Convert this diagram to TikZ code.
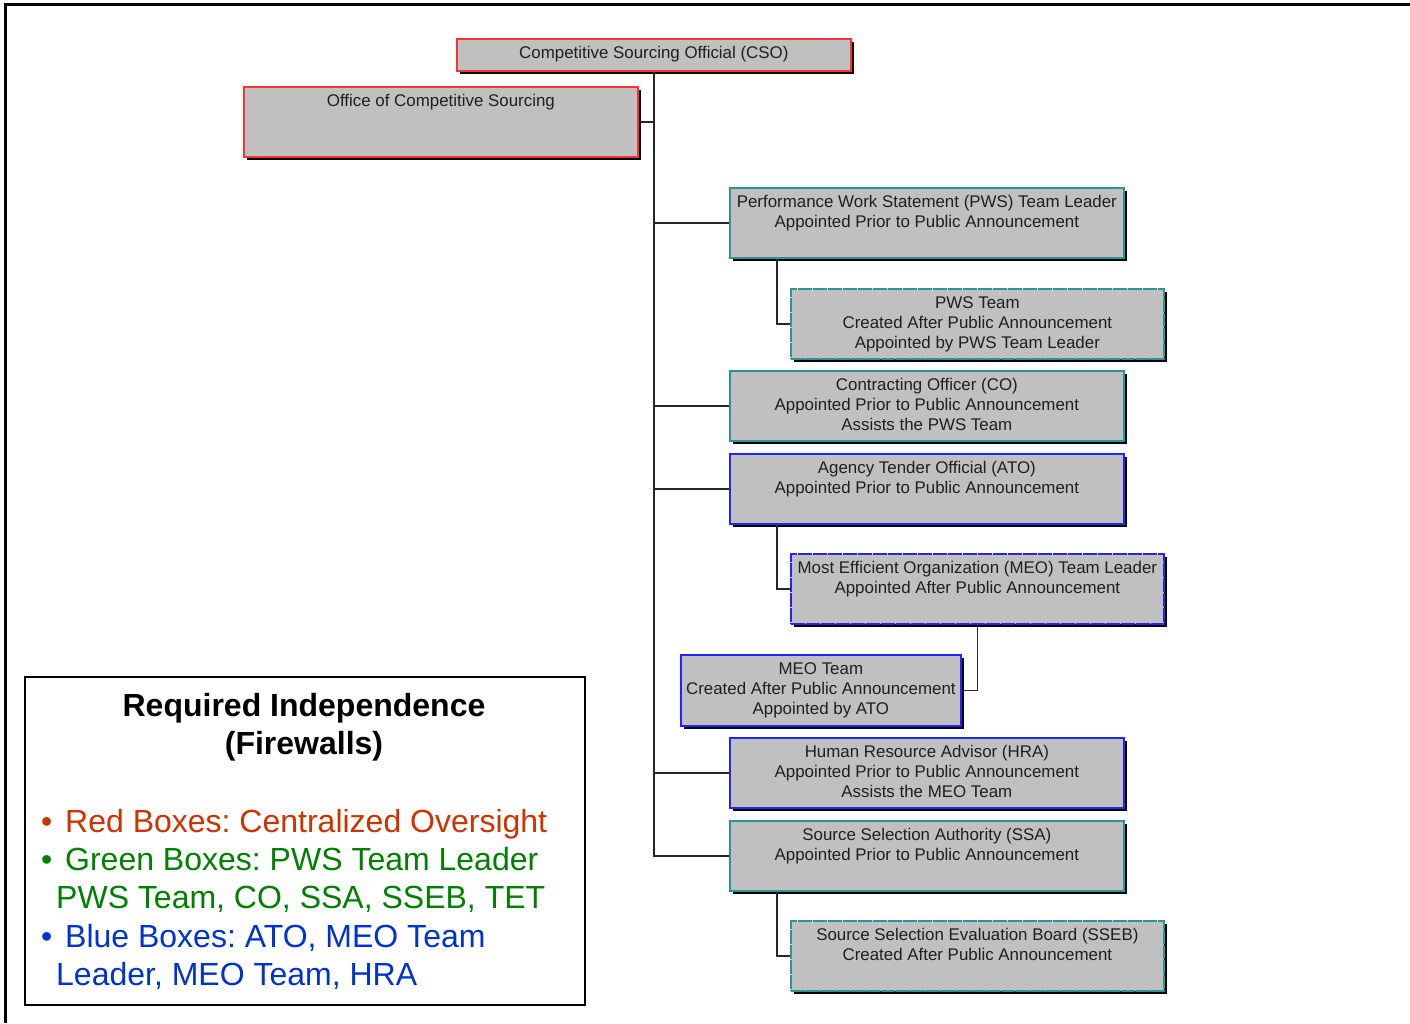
\documentclass[tikz,border=0pt]{standalone}
\usepackage{fontspec}
\setmainfont{Liberation Sans}
\usetikzlibrary{shadows}
\frenchspacing
\definecolor{boxgray}{RGB}{192,192,192}
\definecolor{bred}{RGB}{250,50,50}
\definecolor{bgreen}{RGB}{40,150,150}
\definecolor{bblue}{RGB}{35,35,250}
\definecolor{tred}{RGB}{204,51,0}
\definecolor{tgreen}{RGB}{0,128,0}
\definecolor{tblue}{RGB}{0,51,204}
\tikzset{
  orgbox/.style={draw=#1, fill=boxgray, line width=1.7pt, inner sep=0pt, anchor=north west,
    drop shadow={shadow xshift=3pt, shadow yshift=-3pt, fill=black, opacity=1}},
  dashbox/.style={dash pattern=on 14pt off 1pt},
  boxtext/.style={anchor=north, align=center, inner sep=0pt, font=\fontsize{16.9}{20}\selectfont, text=black!88},
  link/.style={draw=black!85, line width=1.6pt},
  legtitle/.style={anchor=north, align=center, inner sep=0pt, font=\fontsize{32}{38}\selectfont\bfseries},
  legitem/.style={anchor=base west, inner sep=0pt, font=\fontsize{32}{38}\selectfont},
}
\newcommand{\obox}[7]{%
  \node[#2, minimum width={(#5-#3)*1pt}, minimum height={(#6-#4)*1pt}] (#1) at (#3,#4) {};
  \node[boxtext] (#1-t) at ([yshift=-8pt]#1.north) {#7};
}
\begin{document}
\begin{tikzpicture}[x=1pt, y=-1pt]
\useasboundingbox (0,0) rectangle (1410,1023);
% outer frame (partially visible)
\draw[line width=3pt] (5,1023) -- (5,4) -- (1410,4);

% boxes
\obox{cso}{orgbox=bred}{456}{38}{850}{70}{Competitive Sourcing Official (CSO)}
\obox{office}{orgbox=bred}{243}{86}{637}{156}{Office of Competitive Sourcing}
\obox{pwstl}{orgbox=bgreen}{729}{187}{1123}{257}{Performance Work Statement (PWS) Team Leader\\Appointed Prior to Public Announcement}
\obox{pwsteam}{orgbox=bgreen,dashbox}{790}{288}{1163}{358}{PWS Team\\Created After Public Announcement\\Appointed by PWS Team Leader}
\obox{co}{orgbox=bgreen}{729}{370}{1123}{440}{Contracting Officer (CO)\\Appointed Prior to Public Announcement\\Assists the PWS Team}
\obox{ato}{orgbox=bblue}{729}{453}{1123}{523}{Agency Tender Official (ATO)\\Appointed Prior to Public Announcement}
\obox{meotl}{orgbox=bblue,dashbox}{790}{553}{1163}{623}{Most Efficient Organization (MEO) Team Leader\\Appointed After Public Announcement}
\obox{meoteam}{orgbox=bblue}{680}{654}{960}{725}{MEO Team\\Created After Public Announcement\\Appointed by ATO}
\obox{hra}{orgbox=bblue}{729}{737}{1123}{807}{Human Resource Advisor (HRA)\\Appointed Prior to Public Announcement\\Assists the MEO Team}
\obox{ssa}{orgbox=bgreen}{729}{820}{1123}{890}{Source Selection Authority (SSA)\\Appointed Prior to Public Announcement}
\obox{sseb}{orgbox=bgreen,dashbox}{790}{920}{1163}{990}{Source Selection Evaluation Board (SSEB)\\Created After Public Announcement}

% connectors
\draw[link] (cso.south) |- (ssa.west);
\draw[link] (cso.south |- office.east) -- (office.east);
\draw[link] (cso.south |- pwstl.west) -- (pwstl.west);
\draw[link] (cso.south |- co.west) -- (co.west);
\draw[link] (cso.south |- ato.west) -- (ato.west);
\draw[link] (cso.south |- hra.west) -- (hra.west);
\draw[link] ([xshift=48pt]pwstl.south west) |- (pwsteam.west);
\draw[link] ([xshift=48pt]ato.south west) |- (meotl.west);
\draw[link] ([xshift=48pt]ssa.south west) |- (sseb.west);
\draw[link] (meotl.south) |- (meoteam.east);

% legend
\node[draw, line width=2pt, inner sep=0pt, anchor=north west, minimum width=560pt, minimum height=328pt] (legend) at (24,676) {};
\node[legtitle] (legt) at (304,693) {Required Independence\\(Firewalls)};
\node[legitem, text=tred] (leg1) at (41,832.5) {\makebox[24pt][l]{•}Red Boxes: Centralized Oversight};
\node[legitem, text=tgreen] (leg2) at (41,870.5) {\makebox[24pt][l]{•}Green Boxes: PWS Team Leader};
\node[legitem, text=tgreen] (leg3) at (56,908.5) {PWS Team, CO, SSA, SSEB, TET};
\node[legitem, text=tblue] (leg4) at (41,947.5) {\makebox[24pt][l]{•}Blue Boxes: ATO, MEO Team};
\node[legitem, text=tblue] (leg5) at (56,985.5) {Leader, MEO Team, HRA};
\end{tikzpicture}
\end{document}
